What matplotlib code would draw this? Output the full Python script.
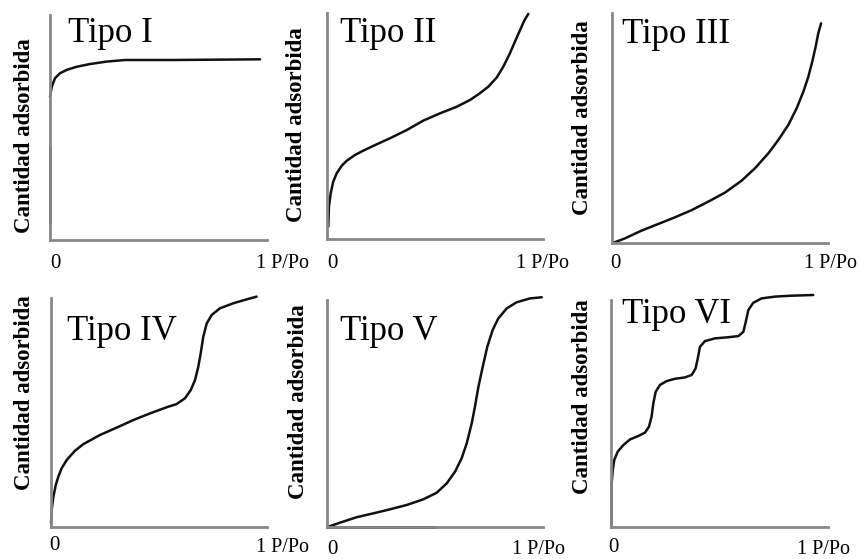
import numpy as np
import matplotlib.pyplot as plt

W, H = 859, 559

titles = ["Tipo I", "Tipo II", "Tipo III", "Tipo IV", "Tipo V", "Tipo VI"]
ylabel = "Cantidad adsorbida"
xtick_lo = "0"
xtick_hi = "1 P/Po"

# isotherm curves (x = P/Po, y = relative amount)
x1 = [0.0, 0.008, 0.023, 0.046, 0.077, 0.123, 0.184, 0.261, 0.346, 0.461, 0.567, 0.968]
y1 = [0.637, 0.681, 0.719, 0.741, 0.756, 0.77, 0.782, 0.793, 0.80, 0.80, 0.80, 0.803]

x2 = [0.006, 0.009, 0.017, 0.029, 0.045, 0.068, 0.091, 0.13, 0.168, 0.23, 0.292, 0.369, 0.446,
      0.523, 0.6, 0.662, 0.708, 0.747, 0.786, 0.816, 0.847, 0.87, 0.894, 0.913, 0.932]
y2 = [0.054, 0.143, 0.202, 0.254, 0.291, 0.324, 0.346, 0.372, 0.391, 0.419, 0.446, 0.482, 0.524,
      0.556, 0.585, 0.615, 0.645, 0.674, 0.715, 0.762, 0.822, 0.873, 0.925, 0.966, 0.996]

x3 = [0.006, 0.06, 0.137, 0.215, 0.292, 0.369, 0.446, 0.523, 0.6, 0.662, 0.724, 0.77, 0.816,
      0.855, 0.886, 0.909, 0.927, 0.943, 0.955, 0.968]
y3 = [0.001, 0.02, 0.054, 0.083, 0.112, 0.143, 0.18, 0.219, 0.271, 0.325, 0.39, 0.448, 0.513,
      0.586, 0.658, 0.723, 0.788, 0.854, 0.912, 0.955]

x4 = [0.0, 0.003, 0.011, 0.022, 0.034, 0.049, 0.073, 0.111, 0.15, 0.227, 0.304, 0.381, 0.458,
      0.536, 0.582, 0.62, 0.647, 0.667, 0.682, 0.693, 0.705, 0.721, 0.744, 0.782, 0.844, 0.906, 0.952]
y4 = [0.016, 0.074, 0.132, 0.183, 0.22, 0.256, 0.293, 0.333, 0.362, 0.402, 0.434, 0.467, 0.496,
      0.523, 0.537, 0.562, 0.598, 0.642, 0.70, 0.758, 0.831, 0.889, 0.926, 0.955, 0.977, 0.994, 1.006]

x5 = [0.006, 0.06, 0.137, 0.214, 0.292, 0.369, 0.446, 0.508, 0.554, 0.593, 0.623, 0.647, 0.67,
      0.685, 0.701, 0.721, 0.742, 0.767, 0.793, 0.832, 0.878, 0.94, 0.994]
y5 = [0.001, 0.019, 0.043, 0.06, 0.078, 0.097, 0.122, 0.151, 0.192, 0.244, 0.302, 0.369, 0.457,
      0.53, 0.618, 0.706, 0.794, 0.868, 0.919, 0.963, 0.99, 1.007, 1.012]

x6 = [0.003, 0.008, 0.015, 0.031, 0.057, 0.088, 0.126, 0.157, 0.175, 0.187, 0.195, 0.206, 0.226,
      0.257, 0.295, 0.341, 0.372, 0.39, 0.40, 0.41, 0.433, 0.479, 0.541, 0.587, 0.61, 0.621,
      0.633, 0.656, 0.694, 0.756, 0.833, 0.932]
y6 = [0.192, 0.251, 0.295, 0.332, 0.361, 0.386, 0.401, 0.416, 0.442, 0.486, 0.545, 0.596, 0.626,
      0.643, 0.653, 0.659, 0.67, 0.699, 0.743, 0.794, 0.819, 0.831, 0.836, 0.841, 0.86, 0.904,
      0.956, 0.988, 1.007, 1.015, 1.019, 1.022]

curves = [(x1, y1), (x2, y2), (x3, y3), (x4, y4), (x5, y5), (x6, y6)]

# dark bits lying on the axes in the scan
marks = {0: ([0.0, 0.0], [0.08, 0.409]),
         4: ([0.0, 0.5], [0.0, 0.0]),
         5: ([0.0, 0.0], [0.0, 0.194])}

# axes boxes in pixels: left, right, top, bottom
boxes = [(50, 267, 15, 240), (327, 543, 13, 239), (612, 828, 13, 243),
         (51, 267, 298, 527), (327, 543, 300, 527), (611, 828, 300, 527)]
# title left / baseline, ylabel centre, "0" centre, "1 P/Po" left/centre
title_pos = [(68, 42), (340, 42), (622, 43), (67, 340), (340, 340), (622, 323)]
ylab_pos = [(25, 136), (297, 125), (583, 118), (25, 393), (298, 402), (583, 397)]
lo_pos = [(55, 264), (332, 264), (615, 264), (54, 546), (332, 549), (613, 548)]
hi_pos = [(256, 264), (516, 264), (804, 264), (256, 547), (512, 549), (797, 549)]

plt.rcParams['font.family'] = ['Liberation Serif', 'DejaVu Serif']

fig = plt.figure(figsize=(W / 100, H / 100), dpi=100)


def fx(px):
    return px / W


def fy(py):
    return 1 - py / H


for i in range(6):
    l, r, t, b = boxes[i]
    ax = fig.add_axes([fx(l), fy(b), (r - l) / W, (b - t) / H])
    ax.set_xlim(0, 1)
    ax.set_ylim(0, 1)
    for s in ['top', 'right']:
        ax.spines[s].set_visible(False)
    for s in ['left', 'bottom']:
        ax.spines[s].set_color('#888888')
        ax.spines[s].set_linewidth(2.0)
    ax.set_xticks([])
    ax.set_yticks([])
    ax.patch.set_alpha(0)

    xs, ys = curves[i]
    ax.plot(xs, ys, color='#111111', lw=1.8, clip_on=False,
            solid_capstyle='round', solid_joinstyle='round')
    if i in marks:
        mx, my = marks[i]
        ax.plot(mx, my, color='#222222', lw=2.0, clip_on=False)

    tx, ty = title_pos[i]
    fig.text(fx(tx), fy(ty), titles[i], fontsize=25, ha='left', va='baseline')
    yx, yy = ylab_pos[i]
    fig.text(fx(yx), fy(yy), ylabel, fontsize=16.5, fontweight='bold',
             rotation=90, ha='center', va='center')
    lx, ly = lo_pos[i]
    fig.text(fx(lx), fy(ly), xtick_lo, fontsize=15, ha='center', va='center')
    hx, hy = hi_pos[i]
    fig.text(fx(hx), fy(hy), xtick_hi, fontsize=14.5, ha='left', va='center')

fig.savefig("out.png", dpi=100)
